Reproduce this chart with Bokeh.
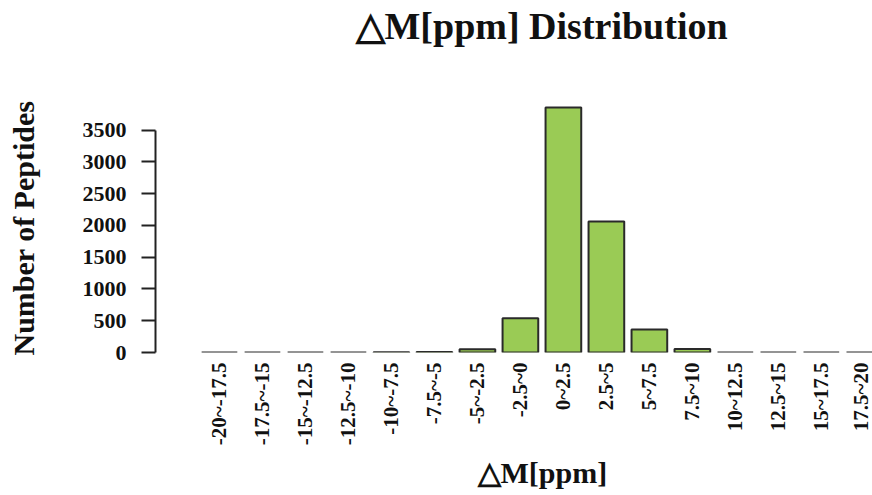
import math
from bokeh.plotting import figure
from bokeh.models import Range1d, FixedTicker, Title, ColumnDataSource
from bokeh.embed import file_html
from bokeh.resources import INLINE

labels = ["-20~-17.5", "-17.5~-15", "-15~-12.5", "-12.5~-10", "-10~-7.5",
          "-7.5~-5", "-5~-2.5", "-2.5~0", "0~2.5", "2.5~5", "5~7.5",
          "7.5~10", "10~12.5", "12.5~15", "15~17.5", "17.5~20"]
counts = [0, 0, 0, 0, 2, 6, 50, 537, 3855, 2061, 363, 55, 0, 0, 0, 0]
y_ticks = [0, 500, 1000, 1500, 2000, 2500, 3000, 3500]

positions = list(range(1, len(labels) + 1))
src = ColumnDataSource(dict(x=positions, top=counts))

SERIF = "Liberation Serif"

p = figure(width=872, height=495, output_backend="svg", toolbar_location=None,
           x_range=Range1d(-0.488, 16.19), y_range=Range1d(0, 3917),
           min_border_left=155, min_border_right=0, min_border_top=0,
           min_border_bottom=143)
p.title = None
p.outline_line_color = None
p.xgrid.grid_line_color = None
p.ygrid.grid_line_color = None

p.vbar(x="x", top="top", bottom=0, width=0.83, source=src,
       fill_color="#9ACB55", line_color="#2a2a2a", line_width=2)

# y axis
ya = p.yaxis[0]
ya.ticker = FixedTicker(ticks=y_ticks)
ya.bounds = (0, 3500)
ya.axis_line_width = 2
ya.axis_line_color = "#222222"
ya.major_tick_line_width = 2
ya.major_tick_line_color = "#222222"
ya.major_tick_in = 0
ya.major_tick_out = 14
ya.minor_tick_line_color = None
ya.major_label_standoff = 15
ya.major_label_text_font = SERIF
ya.major_label_text_font_style = "bold"
ya.major_label_text_font_size = "22px"
ya.major_label_text_color = "#111111"
ya.axis_label = "Number of Peptides"
ya.axis_label_standoff = 40
ya.axis_label_text_font = SERIF
ya.axis_label_text_font_style = "bold"
ya.axis_label_text_font_size = "30px"
ya.axis_label_text_color = "#111111"

# x axis
xa = p.xaxis[0]
xa.ticker = FixedTicker(ticks=positions)
xa.major_label_overrides = {i: lab for i, lab in zip(positions, labels)}
xa.axis_line_color = None
xa.major_tick_line_color = None
xa.minor_tick_line_color = None
xa.major_tick_out = 0
xa.major_tick_in = 0
xa.major_label_standoff = 10
xa.major_label_orientation = math.pi / 2
xa.major_label_text_font = SERIF
xa.major_label_text_font_style = "bold"
xa.major_label_text_font_size = "21px"
xa.major_label_text_color = "#111111"

# spacer between the title and the plot area
p.add_layout(Title(text=" ", text_font_size="1px", standoff=52), "above")
p.add_layout(Title(text="△M[ppm] Distribution", align="left", offset=200,
                   standoff=4, text_font=SERIF, text_font_style="bold",
                   text_font_size="38px", text_color="#111111"), "above")
p.add_layout(Title(text="△M[ppm]", align="left", offset=322,
                   text_font=SERIF, text_font_style="bold",
                   text_font_size="30px", text_color="#111111"), "below")

open("out.html", "w").write(file_html(p, INLINE))
